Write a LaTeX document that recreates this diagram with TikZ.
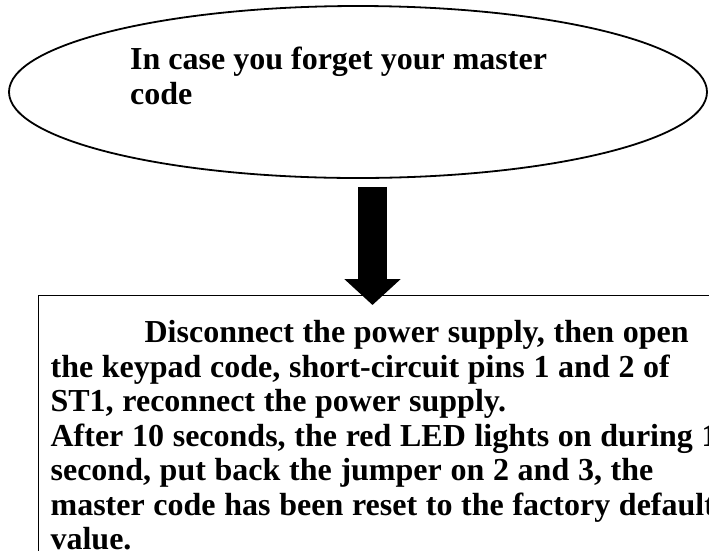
\documentclass[tikz,border=0pt]{standalone}
\usepackage{fontspec}
\setmainfont{Liberation Serif}
\usetikzlibrary{shapes.geometric, arrows.meta, positioning, calc}

\newcommand{\tightwords}{\spaceskip=8.7pt plus 1pt minus 1pt\relax}

\begin{document}
\begin{tikzpicture}[
    x=1pt, y=-1pt,
    startshape/.style={ellipse, draw, line width=1.8pt, minimum width=698pt, minimum height=172pt, inner sep=0pt},
    infotext/.style={font=\bfseries\fontsize{32}{35}\selectfont, align=left, inner sep=0pt},
    resetbox/.style={rectangle, draw, line width=1.2pt, minimum width=700pt, minimum height=280pt, text width=800pt, align=left, inner xsep=12pt, inner ysep=9pt, anchor=north west, font=\bfseries\fontsize{32}{34.5}\selectfont},
    bigarrow/.style={line width=29pt, -{Triangle[length=26pt, width=55pt]}}
]
    \useasboundingbox (0,0) rectangle (709,550);
    \clip (0,0) rectangle (709,550);

    \node[startshape] (start) at (358,92) {};
    \node[infotext, anchor=north west] (starttext) at (130,47) {In case you forget your master\\code};

    \node[resetbox] (reset) at (38,295) {\tightwords\hspace*{94pt}Disconnect the power supply, then open\\
the keypad code, short-circuit pins 1 and 2 of\\
ST1, reconnect the power supply.\\
After 10 seconds, the red LED lights on during 1\\
second, put back the jumper on 2 and 3, the\\
master code has been reset to the factory default\\
value.};

    \draw[bigarrow] ([xshift=14.5pt, yshift=-8pt]start.south) -- ([xshift=14.5pt, yshift=-10pt]start.south |- reset.north);
\end{tikzpicture}
\end{document}
